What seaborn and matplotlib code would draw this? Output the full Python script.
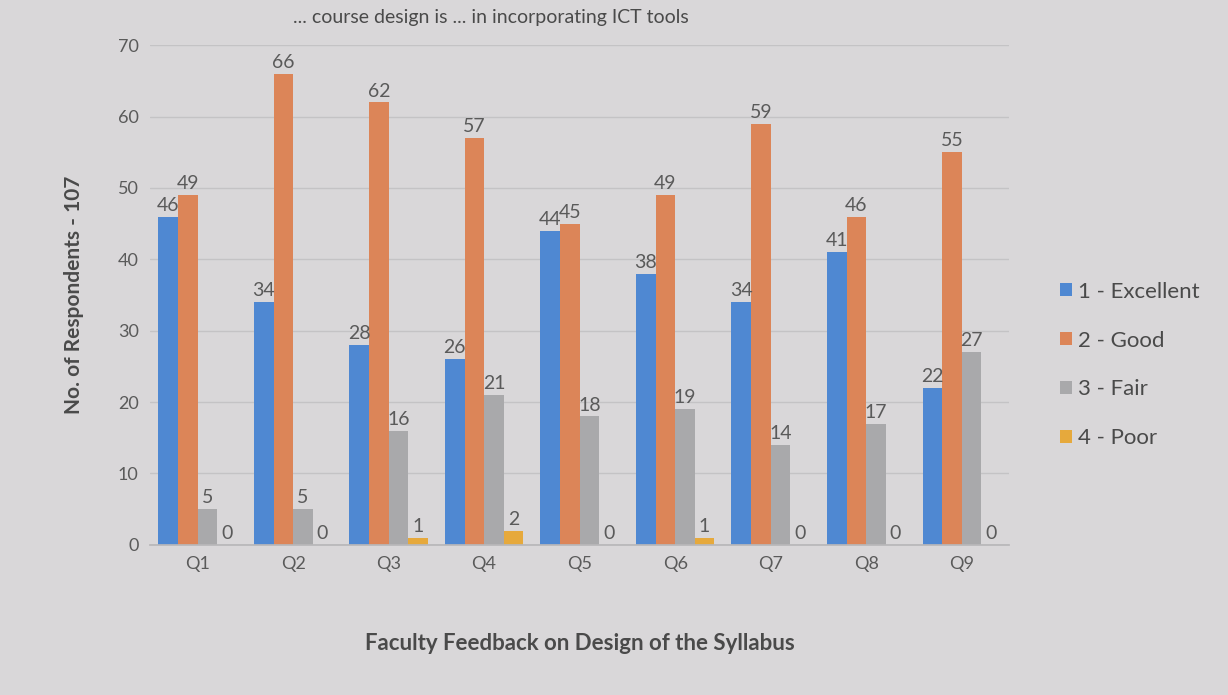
import matplotlib
matplotlib.use("Agg")
import matplotlib.pyplot as plt
import pandas as pd
import seaborn as sns

# Values
questions = ["Q1", "Q2", "Q3", "Q4", "Q5", "Q6", "Q7", "Q8", "Q9"]
ratings = ["1 - Excellent", "2 - Good", "3 - Fair", "4 - Poor"]
excellent = [46, 34, 28, 26, 44, 38, 34, 41, 22]
good = [49, 66, 62, 57, 45, 49, 59, 46, 55]
fair = [5, 5, 16, 21, 18, 19, 14, 17, 27]
poor = [0, 0, 1, 2, 0, 1, 0, 0, 0]
colors = ["#4f88d2", "#dc8558", "#a9a9ab", "#e6a93c"]

rows = []
for r, vals in zip(ratings, [excellent, good, fair, poor]):
    for q, v in zip(questions, vals):
        rows.append({"Question": q, "Rating": r, "Count": v})
df = pd.DataFrame(rows)

sns.set_theme(style="white")
plt.rcParams["font.family"] = ["Lato", "DejaVu Sans"]
bg = "#d9d7d9"

fig = plt.figure(figsize=(12.28, 6.95), dpi=100, facecolor=bg)
ax = fig.add_axes([0.122, 0.216, 0.700, 0.719], facecolor=bg)

sns.barplot(data=df, x="Question", y="Count", hue="Rating", hue_order=ratings,
            palette=colors, width=0.82, saturation=1, linewidth=0, ax=ax,
            legend=True)

for cont in ax.containers:
    ax.bar_label(cont, fontsize=14, color="#5a5a5a", padding=2)

ax.set_ylim(0, 70)
ax.set_yticks(range(0, 71, 10))
ax.yaxis.grid(True, color="#c4c3c5", linewidth=1)
ax.set_axisbelow(True)
for s in ["top", "right", "left"]:
    ax.spines[s].set_visible(False)
ax.spines["bottom"].set_color("#b8b7b9")
ax.tick_params(axis="both", length=0, labelsize=13, colors="#5a5a5a", pad=8)
ax.set_xlabel("Faculty Feedback on Design of the Syllabus", fontsize=16,
              fontweight="bold", color="#4a4a4a", labelpad=44)
ax.set_ylabel("No. of Respondents - 107", fontsize=15, fontweight="bold",
              color="#4a4a4a", labelpad=24)

leg = ax.legend(loc="center left", bbox_to_anchor=(1.035, 0.36), frameon=False,
                fontsize=16, handlelength=0.55, handleheight=0.55,
                handletextpad=0.3, labelspacing=1.3)
for t in leg.get_texts():
    t.set_color("#4a4a4a")

fig.text(0.40, 0.975, "... course design is ... in incorporating ICT tools",
         ha="center", va="center", fontsize=14, color="#4a4a4a")

fig.savefig("out.png", dpi=100, facecolor=bg)
